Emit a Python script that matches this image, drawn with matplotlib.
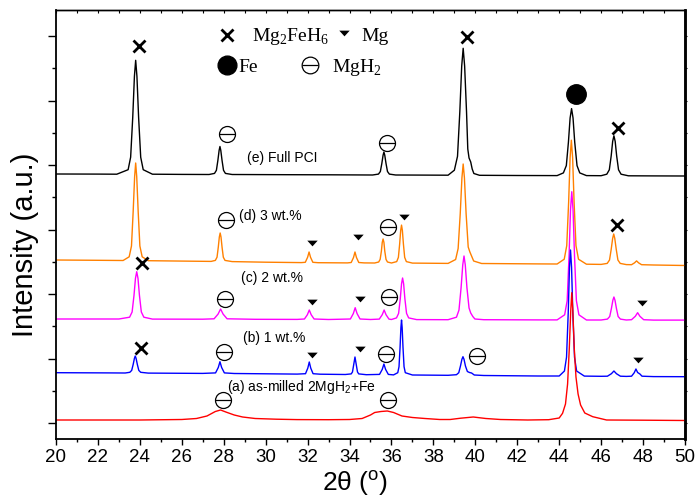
import matplotlib
matplotlib.use('Agg')
import matplotlib.pyplot as plt
from matplotlib.path import Path
from matplotlib.ticker import NullFormatter, MultipleLocator, FixedLocator
import numpy as np

plt.rcParams['font.family'] = ['Liberation Sans', 'DejaVu Sans']

# ---------------- data (2theta, intensity a.u.) ----------------
pattern_e = [(20.0, 265.0), (22.0, 264.9), (22.9, 264.8), (23.44, 269.3), (23.56, 281.8), (23.66, 321.7),
             (23.74, 362.7), (23.80, 378.7), (23.86, 362.7), (23.94, 321.7), (24.04, 281.8), (24.16, 269.3),
             (24.6, 264.8), (26.0, 264.6), (27.3, 264.5), (27.56, 265.6), (27.65, 268.7), (27.72, 278.5),
             (27.78, 288.6), (27.82, 292.5), (27.86, 288.6), (27.92, 278.5), (27.99, 268.7), (28.08, 265.6),
             (28.4, 264.5), (31.0, 264.3), (33.0, 264.2), (35.1, 264.0), (35.38, 264.9), (35.47, 267.5),
             (35.54, 275.5), (35.60, 283.8), (35.64, 287.0), (35.68, 283.8), (35.74, 275.5), (35.81, 267.5),
             (35.90, 264.9), (36.2, 264.0), (37.5, 263.9), (38.7, 263.8), (39.00, 268.8), (39.15, 282.7),
             (39.26, 327.2), (39.35, 372.9), (39.42, 390.7), (39.49, 372.9), (39.58, 327.2), (39.64, 290.0),
             (39.70, 281.0), (39.78, 277.0), (39.85, 270.0), (39.93, 265.5), (40.2, 263.7), (42.0, 263.5),
             (43.9, 263.4), (44.20, 266.1), (44.34, 273.4), (44.44, 296.9), (44.52, 321.0), (44.59, 330.4),
             (44.66, 321.0), (44.74, 296.9), (44.85, 273.4), (44.98, 266.1), (45.3, 263.4), (46.0, 263.3),
             (46.27, 264.8), (46.39, 269.2), (46.48, 283.2), (46.55, 297.6), (46.61, 303.2), (46.67, 297.6),
             (46.74, 283.2), (46.83, 269.2), (46.95, 264.8), (47.3, 263.2), (48.5, 263.1), (50.0, 263.0)]

pattern_d = [(20.0, 179.0), (22.0, 178.7), (23.2, 178.5), (23.49, 182.2), (23.60, 193.0), (23.68, 227.2),
             (23.75, 262.3), (23.80, 276.0), (23.85, 262.3), (23.92, 227.2), (24.00, 193.0), (24.11, 182.2),
             (24.4, 178.3), (26.5, 177.8), (27.4, 177.6), (27.60, 178.6), (27.68, 181.8), (27.74, 191.8),
             (27.79, 202.0), (27.83, 206.0), (27.87, 202.0), (27.92, 191.8), (27.98, 181.8), (28.06, 178.6),
             (28.4, 177.4), (30.0, 176.8), (31.7, 176.4), (31.89, 176.7), (32.00, 181.7), (32.07, 187.0),
             (32.14, 181.7), (32.25, 176.7), (32.5, 176.3), (33.9, 176.1), (34.08, 176.5), (34.19, 181.5),
             (34.26, 187.0), (34.33, 181.5), (34.44, 176.5), (34.7, 176.1), (35.2, 176.0), (35.39, 177.0),
             (35.46, 179.6), (35.52, 188.0), (35.56, 196.6), (35.60, 200.0), (35.64, 196.6), (35.68, 188.0),
             (35.74, 179.6), (35.81, 177.0), (36.0, 176.0), (36.25, 177.4), (36.33, 181.6), (36.39, 194.9),
             (36.44, 208.6), (36.48, 213.9), (36.52, 208.6), (36.57, 194.9), (36.63, 181.6), (36.71, 177.4),
             (37.0, 175.9), (38.7, 175.6), (39.06, 179.5), (39.18, 190.5), (39.28, 225.3), (39.36, 261.1),
             (39.42, 275.0), (39.48, 261.1), (39.56, 225.3), (39.66, 192.0), (39.74, 187.0), (39.82, 183.0),
             (39.92, 178.0), (40.3, 175.5), (43.0, 175.1), (43.9, 175.0), (44.24, 179.8), (44.36, 193.4),
             (44.45, 236.8), (44.52, 281.4), (44.58, 298.8), (44.64, 281.4), (44.71, 236.8), (44.80, 193.4),
             (44.92, 179.8), (45.3, 174.8), (46.0, 174.6), (46.29, 175.6), (46.40, 179.0), (46.48, 189.7),
             (46.55, 200.7), (46.60, 205.0), (46.65, 200.7), (46.72, 189.7), (46.80, 179.0), (46.91, 175.6),
             (47.2, 174.4), (47.45, 174.3), (47.59, 176.1), (47.69, 178.1), (47.79, 176.1), (47.93, 174.3),
             (48.5, 174.0), (50.0, 173.5)]

pattern_c = [(20.0, 120.0), (23.0, 120.0), (23.51, 121.8), (23.63, 127.0), (23.72, 143.6), (23.79, 160.7),
             (23.85, 167.3), (23.91, 160.7), (23.98, 143.6), (24.07, 127.0), (24.19, 121.8), (24.6, 119.9),
             (27.0, 119.8), (27.54, 120.2), (27.73, 124.9), (27.85, 130.0), (27.97, 124.9), (28.16, 120.2),
             (29.5, 119.7), (31.5, 119.6), (31.85, 120.0), (31.99, 124.3), (32.08, 129.0), (32.17, 124.3),
             (32.31, 120.0), (33.0, 119.5), (34.04, 120.0), (34.18, 125.4), (34.27, 131.3), (34.36, 125.4),
             (34.50, 120.0), (35.0, 119.5), (35.42, 119.9), (35.56, 124.3), (35.65, 129.0), (35.74, 124.3),
             (35.88, 119.9), (36.0, 119.5), (36.24, 121.1), (36.34, 125.6), (36.42, 140.2), (36.48, 155.2),
             (36.53, 161.0), (36.58, 155.2), (36.64, 140.2), (36.72, 125.6), (36.82, 121.1), (37.2, 119.4),
             (38.7, 119.3), (39.10, 121.8), (39.22, 128.9), (39.32, 151.2), (39.40, 174.1), (39.46, 183.0),
             (39.52, 174.1), (39.60, 151.2), (39.70, 131.0), (39.78, 126.0), (39.88, 122.5), (39.98, 120.0),
             (40.4, 119.3), (43.0, 119.1), (43.9, 119.1), (44.26, 124.2), (44.38, 138.3), (44.47, 183.2),
             (44.54, 229.4), (44.60, 247.3), (44.66, 229.4), (44.73, 183.2), (44.82, 138.3), (44.94, 124.2),
             (45.3, 119.0), (46.0, 119.0), (46.30, 119.9), (46.41, 122.5), (46.49, 130.5), (46.56, 138.8),
             (46.61, 142.0), (46.66, 138.8), (46.73, 130.5), (46.81, 122.5), (46.92, 119.9), (47.2, 119.0),
             (47.45, 119.3), (47.63, 122.7), (47.74, 126.3), (47.85, 122.7), (48.03, 119.3), (48.5, 118.9),
             (50.0, 118.9)]

pattern_b = [(20.0, 66.3), (22.5, 66.1), (23.3, 66.0), (23.52, 66.7), (23.61, 68.6), (23.68, 74.5),
             (23.74, 80.6), (23.78, 83.0), (23.82, 80.6), (23.88, 74.5), (23.95, 68.6), (24.04, 66.7),
             (24.4, 65.9), (27.0, 65.6), (27.61, 66.1), (27.74, 71.5), (27.82, 77.3), (27.90, 71.5),
             (28.03, 66.1), (28.5, 65.5), (31.5, 64.9), (31.90, 65.3), (32.01, 70.9), (32.08, 77.0),
             (32.15, 70.9), (32.26, 65.3), (32.6, 64.8), (33.8, 64.5), (34.08, 65.1), (34.14, 67.0),
             (34.19, 73.2), (34.26, 82.0), (34.33, 73.2), (34.38, 67.0), (34.44, 65.1), (34.8, 64.3),
             (35.43, 64.6), (35.56, 69.6), (35.64, 75.0), (35.72, 69.6), (35.85, 64.6), (36.1, 64.1),
             (36.30, 66.3), (36.36, 72.3), (36.41, 91.6), (36.45, 111.3), (36.48, 119.0), (36.51, 111.3),
             (36.55, 91.6), (36.60, 72.3), (36.66, 66.3), (37.0, 64.0), (38.7, 63.7), (39.10, 64.3),
             (39.21, 66.3), (39.29, 72.9), (39.36, 79.7), (39.41, 82.3), (39.46, 79.7), (39.53, 72.9),
             (39.62, 67.5), (39.72, 66.5), (39.82, 66.0), (39.95, 64.0), (40.4, 63.5), (43.0, 63.0),
             (44.0, 63.0), (44.25, 68.0), (44.35, 81.9), (44.43, 126.0), (44.49, 171.4), (44.54, 189.0),
             (44.59, 171.4), (44.65, 126.0), (44.73, 81.9), (44.83, 68.0), (45.2, 62.9), (46.0, 62.7),
             (46.30, 62.8), (46.49, 65.3), (46.61, 68.0), (46.73, 65.3), (46.92, 62.8), (47.2, 62.6),
             (47.45, 62.8), (47.58, 66.3), (47.66, 70.0), (47.74, 66.5), (47.85, 65.0), (47.95, 62.8),
             (48.5, 62.4), (50.0, 62.3)]

pattern_a = [(20.0, 19.0), (22.0, 19.0), (24.0, 19.0), (26.0, 19.5), (26.7, 20.5), (27.2, 23.0),
             (27.6, 27.5), (27.85, 29.0), (28.1, 27.0), (28.5, 24.0), (28.9, 22.0), (29.5, 20.5),
             (30.5, 19.8), (31.5, 19.4), (33.0, 19.3), (34.0, 19.5), (34.6, 20.5), (35.0, 24.0),
             (35.2, 26.5), (35.5, 27.5), (35.8, 28.0), (36.1, 26.5), (36.5, 23.0), (37.0, 21.5),
             (37.6, 20.5), (38.3, 19.5), (38.8, 19.5), (39.3, 20.8), (39.9, 22.0), (40.5, 20.5),
             (41.2, 19.5), (42.5, 19.0), (43.5, 19.3), (44.00, 21.0), (44.16, 25.7), (44.30, 35.0),
             (44.40, 55.0), (44.48, 90.0), (44.55, 128.0), (44.60, 146.3), (44.65, 128.0), (44.72, 90.0),
             (44.80, 62.0), (44.90, 45.0), (45.02, 34.0), (45.22, 26.0), (45.6, 22.3), (46.26, 19.0),
             (48.0, 18.8), (50.0, 18.5)]

# phase marker positions (2theta, intensity)
mg2feh6_marks = [(23.96, 393), (39.58, 402), (46.81, 311), (46.74, 214), (24.09, 176), (24.05, 91)]
mgh2_marks = [(28.15, 305), (35.77, 296), (28.09, 219), (35.85, 212), (28.07, 140), (35.88, 142),
              (28.01, 87), (35.72, 85), (40.06, 83), (27.95, 39), (35.85, 39)]
mg_marks = [(32.19, 196), (34.42, 202), (36.61, 222), (32.19, 137), (34.50, 140), (47.93, 136),
            (32.19, 84), (34.50, 90), (47.77, 79)]
fe_marks = [(44.78, 345)]

sample_labels = ['(e) Full PCI', '(d) 3 wt.%', '(c) 2 wt.%', '(b) 1 wt.%',
                 r'(a) as-milled 2MgH$_\mathregular{2}$+Fe']
label_pos = [(29.12, 277), (28.74, 219), (28.81, 157.3), (28.90, 97.3), (28.14, 48.3)]
colors = ['black', '#FF8000', '#FF00FF', '#0000FF', '#FF0000']
patterns = [pattern_e, pattern_d, pattern_c, pattern_b, pattern_a]

# ---------------- figure ----------------
fig = plt.figure(figsize=(6.97, 4.99), dpi=100)
ax = fig.add_axes([56/697, 60/499, 629/697, 429/499])

for pat, col in zip(patterns, colors):
    xs = [p[0] for p in pat]
    ys = [p[1] for p in pat]
    ax.plot(xs, ys, color=col, lw=1.0, solid_joinstyle='round')

tri = Path([(-1, 0.55), (1, 0.55), (0, -0.55), (-1, 0.55)],
           [Path.MOVETO, Path.LINETO, Path.LINETO, Path.CLOSEPOLY])

def draw_x(pts, **kw):
    ax.plot([p[0] for p in pts], [p[1] for p in pts], ls='none', marker='x',
            ms=8.5, mew=2.0, color='black', **kw)

def draw_ominus(pts, ms=11.5):
    xs = [p[0] for p in pts]; ys = [p[1] for p in pts]
    ax.plot(xs, ys, ls='none', marker='o', ms=ms, mfc='none', mec='black', mew=0.9)
    ax.plot(xs, ys, ls='none', marker='_', ms=ms, mec='black', mew=0.9)

def draw_tri(pts, ms=7.5):
    ax.plot([p[0] for p in pts], [p[1] for p in pts], ls='none', marker=tri,
            ms=ms, color='black', mew=0)

draw_x(mg2feh6_marks)
draw_ominus(mgh2_marks)
draw_tri(mg_marks)
ax.plot([p[0] for p in fe_marks], [p[1] for p in fe_marks], ls='none', marker='o',
        ms=14, color='black')

for (lx, ly), txt in zip(label_pos, sample_labels):
    ax.text(lx, ly, txt, fontsize=10, family='Liberation Sans', va='baseline', ha='left')

# phase legend
draw_x([(28.14, 404)])
ax.text(29.33, 398, r'Mg$_\mathregular{2}$FeH$_\mathregular{6}$', family='Liberation Serif',
        fontsize=14, va='baseline')
draw_tri([(33.75, 406)])
ax.text(34.58, 398, 'Mg', family='Liberation Serif', fontsize=14, va='baseline')
ax.plot([28.15], [374], ls='none', marker='o', ms=13.5, color='black')
ax.text(28.68, 367.3, 'Fe', family='Liberation Serif', fontsize=14, va='baseline')
draw_ominus([(32.11, 374)], ms=12)
ax.text(33.15, 367.3, r'MgH$_\mathregular{2}$', family='Liberation Serif', fontsize=14, va='baseline')

# axes formatting
ax.set_xlim(20, 50)
ax.set_ylim(0, 429)
ax.xaxis.set_major_locator(MultipleLocator(2))
ax.xaxis.set_minor_locator(MultipleLocator(1))
ax.yaxis.set_major_locator(FixedLocator(np.arange(16, 429, 64.5)))
ax.yaxis.set_minor_locator(FixedLocator(np.arange(48.25, 429, 64.5)))
ax.yaxis.set_major_formatter(NullFormatter())
ax.tick_params(axis='x', which='major', direction='out', length=4.5, width=1.0,
               labelsize=13.5, pad=3)
ax.tick_params(axis='x', which='minor', direction='out', length=2.5, width=1.0)
ax.tick_params(axis='y', which='major', direction='out', length=5.8, width=1.0)
ax.tick_params(axis='y', which='minor', direction='out', length=2.9, width=1.0)

for side, lw in [('left', 1.3), ('bottom', 1.3), ('top', 1.0), ('right', 1.8)]:
    ax.spines[side].set_linewidth(lw)

sec_x = ax.secondary_xaxis('top')
sec_x.xaxis.set_major_locator(MultipleLocator(1))
sec_x.xaxis.set_major_formatter(NullFormatter())
sec_x.tick_params(direction='in', length=2, width=0.8)
sec_x.spines['top'].set_linewidth(1.0)

sec_y = ax.secondary_yaxis('right')
sec_y.yaxis.set_major_locator(FixedLocator(np.arange(16, 429, 32.25)))
sec_y.yaxis.set_major_formatter(NullFormatter())
sec_y.tick_params(direction='out', length=1.5, width=0.8)
sec_y.spines['right'].set_linewidth(1.8)

ax.set_ylabel('Intensity (a.u.)', fontsize=21)
ax.yaxis.set_label_coords(-0.027, 0.452)
ax.set_xlabel(r'2θ ($^\mathregular{o}$)', fontsize=19, va='bottom')
ax.xaxis.set_label_coords(0.4746, -0.1375)

fig.savefig('out.png', dpi=100)
